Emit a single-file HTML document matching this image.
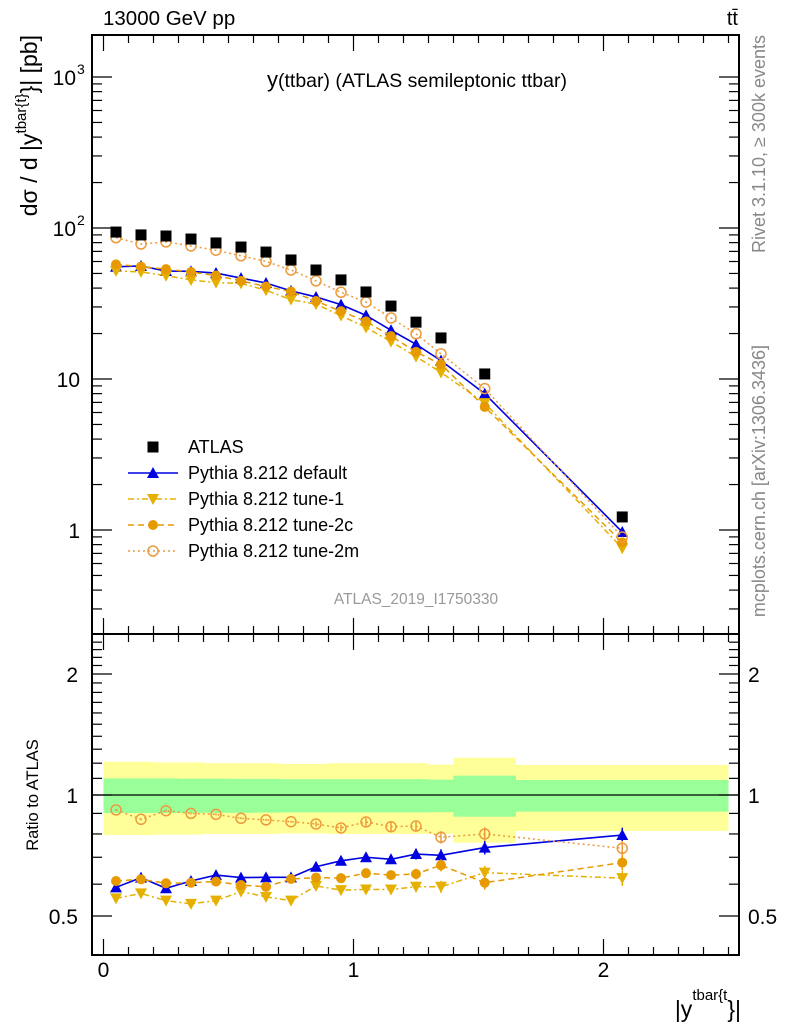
<!DOCTYPE html>
<html><head><meta charset="utf-8"><style>
body{margin:0;background:#fff;}
svg{display:block;font-family:"Liberation Sans",sans-serif;}
</style></head><body>
<svg id="c" width="786" height="1024" xmlns="http://www.w3.org/2000/svg"></svg>
<script>
const binEdges=[0,0.1,0.2,0.3,0.4,0.5,0.6,0.7,0.8,0.9,1.0,1.1,1.2,1.3,1.4,1.65,2.5];
const xCenters=[0.05,0.15,0.25,0.35,0.45,0.55,0.65,0.75,0.85,0.95,1.05,1.15,1.25,1.35,1.525,2.075];
const atlas=[94,90,88.5,84.5,79.6,74.8,69.3,61.4,52.7,45.3,37.7,30.4,23.8,18.7,10.8,1.22];
const ratioDefault=[0.589,0.623,0.586,0.611,0.632,0.623,0.624,0.624,0.663,0.686,0.700,0.692,0.713,0.708,0.740,0.795];
const ratioTune1=[0.553,0.569,0.546,0.536,0.546,0.575,0.558,0.546,0.594,0.580,0.582,0.582,0.591,0.591,0.641,0.621];
const ratioTune2c=[0.611,0.617,0.603,0.605,0.609,0.597,0.591,0.618,0.623,0.621,0.639,0.632,0.636,0.669,0.605,0.679];
const ratioTune2m=[0.918,0.870,0.914,0.900,0.895,0.875,0.867,0.858,0.847,0.828,0.857,0.834,0.837,0.785,0.800,0.737];
const bandOuterHi=[1.21,1.21,1.205,1.205,1.20,1.20,1.20,1.195,1.195,1.20,1.20,1.20,1.20,1.19,1.238,1.188];
const bandOuterLo=[0.795,0.795,0.797,0.797,0.80,0.80,0.80,0.802,0.802,0.80,0.80,0.80,0.80,0.80,0.761,0.814];
const bandInnerHi=[1.10,1.10,1.10,1.098,1.098,1.097,1.097,1.095,1.095,1.095,1.095,1.095,1.095,1.092,1.117,1.09];
const bandInnerLo=[0.902,0.902,0.902,0.903,0.903,0.903,0.904,0.905,0.905,0.905,0.905,0.905,0.905,0.906,0.883,0.909];
const mainTicks=[{v:1,t:"1"},{v:10,t:"10"},{v:100,t:"10",e:"2"},{v:1000,t:"10",e:"3"}];
const ratioTicks=[{v:0.5,t:"0.5"},{v:1,t:"1"},{v:2,t:"2"}];
const xTicks=[0,1,2];

const NS="http://www.w3.org/2000/svg";
const svg=document.getElementById('c');
const L=92,R=739,T=35,M=634,B=955;
const X=v=>103.5+v*250;
const Ym=v=>530-151*Math.log10(v);
const Yr=v=>795-121*Math.log2(v);
function el(tag,attrs,parent){const e=document.createElementNS(NS,tag);for(const k in attrs)e.setAttribute(k,attrs[k]);(parent||svg).appendChild(e);return e;}
function txt(x,y,s,attrs){const e=el('text',Object.assign({x:x,y:y},attrs||{}));e.textContent=s;return e;}

// bands
const gb=el('g',{});


for(let i=0;i<xCenters.length;i++){
  const x0=X(binEdges[i]),x1=X(binEdges[i+1]);
  const r1=el('rect',{x:x0,y:Yr(bandOuterHi[i]),width:x1-x0,height:Yr(bandOuterLo[i])-Yr(bandOuterHi[i]),fill:'#ffff99'},gb);
  
  
  const r2=el('rect',{x:x0,y:Yr(bandInnerHi[i]),width:x1-x0,height:Yr(bandInnerLo[i])-Yr(bandInnerHi[i]),fill:'#99ff99'},gb);
  
  
}
el('line',{x1:L,x2:R,y1:Yr(1),y2:Yr(1),stroke:'#000','stroke-width':1.3});

function marker(g,type,x,y,color){
  if(type==='sq')return el('rect',{x:x-5.5,y:y-5.5,width:11,height:11,fill:'#000'},g);
  if(type==='up')return el('polygon',{points:`${x},${y-6} ${x-6},${y+5} ${x+6},${y+5}`,fill:color},g);
  if(type==='down')return el('polygon',{points:`${x},${y+6} ${x-6},${y-5} ${x+6},${y-5}`,fill:color},g);
  if(type==='dot')return el('circle',{cx:x,cy:y,r:5,fill:color},g);
  if(type==='open')return el('circle',{cx:x,cy:y,r:5,fill:'none',stroke:color,'stroke-width':1.5},g);
}
const series=[
 {name:'default',r:ratioDefault,color:'#0000e0',dash:'',mk:'up',w:1.6},
 {name:'tune-1',r:ratioTune1,color:'#e6b000',dash:'6,3,2,3',mk:'down',w:1.5},
 {name:'tune-2c',r:ratioTune2c,color:'#e69a00',dash:'6,4',mk:'dot',w:1.5},
 {name:'tune-2m',r:ratioTune2m,color:'#ec9a3c',dash:'2,3',mk:'open',w:1.5},
];
series.forEach(s=>{
  const g=el('g',{});
  
  
  const pts=xCenters.map((x,i)=>X(x)+','+Ym(atlas[i]*s.r[i])).join(' ');
  el('polyline',{points:pts,fill:'none',stroke:s.color,'stroke-width':s.w,'stroke-dasharray':s.dash},g);
  xCenters.forEach((x,i)=>{const m=marker(g,s.mk,X(x),Ym(atlas[i]*s.r[i]),s.color);
    
    });
});
const ga=el('g',{});


xCenters.forEach((x,i)=>{const m=marker(ga,'sq',X(x),Ym(atlas[i]));
  
  });

series.forEach(s=>{
  const g=el('g',{});
  
  
  const pts=xCenters.map((x,i)=>X(x)+','+Yr(s.r[i])).join(' ');
  el('polyline',{points:pts,fill:'none',stroke:s.color,'stroke-width':s.w,'stroke-dasharray':s.dash},g);
  xCenters.forEach((x,i)=>{
    const err=i>=8?0.015+0.004*(i-8):0.006;
    el('line',{x1:X(x),x2:X(x),y1:Yr(s.r[i]*(1+err)),y2:Yr(s.r[i]*(1-err)),stroke:s.color,'stroke-width':1.5},g);
    const m=marker(g,s.mk,X(x),Yr(s.r[i]),s.color);
    
    });
});

el('rect',{x:L,y:T,width:R-L,height:M-T,fill:'none',stroke:'#000','stroke-width':2});
el('rect',{x:L,y:M,width:R-L,height:B-M,fill:'none',stroke:'#000','stroke-width':2});

for(let k=0;k<=25;k++){
  const v=k/10,x=X(v),maj=(k%10===0),len=maj?16:8;
  [[T,1],[M,-1],[M,1],[B,-1]].forEach(([y,d])=>el('line',{x1:x,x2:x,y1:y,y2:y+d*len,stroke:'#000','stroke-width':1.2}));
}
xTicks.forEach(v=>{const t=txt(X(v),977,String(v),{'font-size':21,'text-anchor':'middle'});
  
  });
for(let d=-1;d<=3;d++){for(let m=1;m<=9;m++){const v=m*Math.pow(10,d);const y=Ym(v);if(y<T||y>M)continue;
  const len=m===1?20:10;
  el('line',{x1:L,x2:L+len,y1:y,y2:y,stroke:'#000','stroke-width':1.2});
  el('line',{x1:R,x2:R-len,y1:y,y2:y,stroke:'#000','stroke-width':1.2});}}
mainTicks.forEach(t=>{
  const e=txt(t.e?76:80,Ym(t.v)+8,t.t,{'font-size':21,'text-anchor':'end'});
  
  
  if(t.e){txt(77,Ym(t.v)-3,t.e,{'font-size':14});}
});
[0.5,0.6,0.7,0.8,0.9,1,1.1,1.2,1.3,1.4,1.5,1.6,1.7,1.8,1.9,2,2.1,2.2,2.3,2.4].forEach(v=>{
  const y=Yr(v),maj=(v===0.5||v===1||v===2),len=maj?20:10;
  el('line',{x1:L,x2:L+len,y1:y,y2:y,stroke:'#000','stroke-width':1.2});
  el('line',{x1:R,x2:R-len,y1:y,y2:y,stroke:'#000','stroke-width':1.2});
});
ratioTicks.forEach(t=>{
  const a=txt(78,Yr(t.v)+8,t.t,{'font-size':21,'text-anchor':'end'});
  
  
  const b=txt(748,Yr(t.v)+8,t.t,{'font-size':21});
  
  
});

const lg=el('g',{});


const legendNames=['ATLAS','Pythia 8.212 default','Pythia 8.212 tune-1','Pythia 8.212 tune-2c','Pythia 8.212 tune-2m'];
legendNames.forEach((n,i)=>{
  const y=447+26*i;
  if(i===0)marker(lg,'sq',153,y);
  else{const s=series[i-1];
    el('line',{x1:128,x2:178,y1:y,y2:y,stroke:s.color,'stroke-width':s.w,'stroke-dasharray':s.dash},lg);
    marker(lg,s.mk,153,y,s.color);}
  const t=txt(188,y+6,n,{'font-size':18});
  lg.appendChild(t);
  
  
});

function named(e,n){}
named(txt(103,25,'13000 GeV pp',{'font-size':20.5}),'energy-label');
named(txt(738,25,'tt̄',{'font-size':20,'text-anchor':'end'}),'process-label');
const ti=txt(417,87,'',{'font-size':19.5,'text-anchor':'middle'});
ti.innerHTML='<tspan font-size="22">y</tspan>(ttbar) (ATLAS semileptonic ttbar)';
named(ti,'plot-title');
named(txt(416,604,'ATLAS_2019_I1750330',{'font-size':15.5,'fill':'#999','text-anchor':'middle'}),'analysis-id');
const yl=txt(0,0,'',{'font-size':23,'text-anchor':'end',transform:'translate(37,35) rotate(-90)'});
yl.innerHTML='dσ / d |y<tspan font-size="15" dy="-11">tbar{t}</tspan><tspan dy="11">}| [pb]</tspan>';
named(yl,'y-axis-title');
named(txt(0,0,'Ratio to ATLAS',{'font-size':16.5,'text-anchor':'middle',transform:'translate(38,795) rotate(-90)'}),'ratio-axis-title');
const xl=txt(741,1017,'',{'font-size':23,'text-anchor':'end'});
xl.innerHTML='|y<tspan font-size="15" dy="-17">tbar{t</tspan><tspan dy="17">}|</tspan>';
named(xl,'x-axis-title');
named(txt(0,0,'Rivet 3.1.10, ≥ 300k events',{'font-size':18,'fill':'#888','text-anchor':'end',transform:'translate(765,35) rotate(-90)'}),'rivet-label');
named(txt(0,0,'mcplots.cern.ch [arXiv:1306.3436]',{'font-size':18,'fill':'#888','text-anchor':'end',transform:'translate(765,345) rotate(-90)'}),'mcplots-label');
</script>
</body></html>
